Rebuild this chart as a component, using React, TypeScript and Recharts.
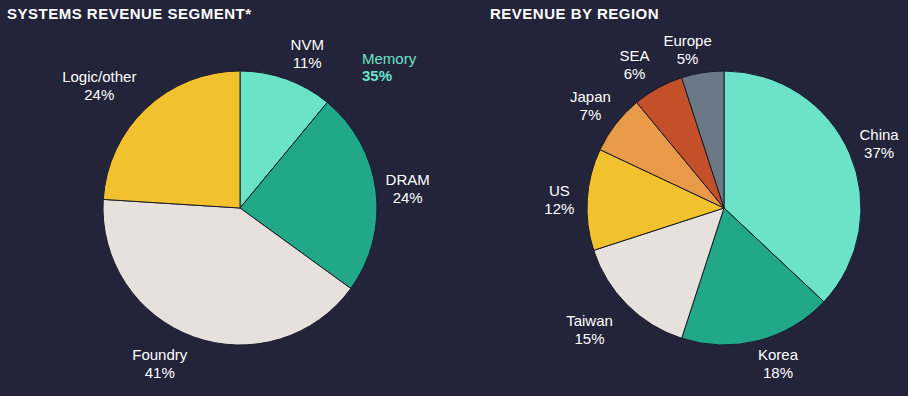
import { PieChart, Pie, Cell } from "recharts";

const segmentNames = ["NVM", "DRAM", "Foundry", "Logic/other"];
const segmentValues = [11, 24, 41, 24];
const segmentColors = ["#6be3c8", "#20a888", "#e6e1dc", "#f2c12e"];

const regionNames = ["China", "Korea", "Taiwan", "US", "Japan", "SEA", "Europe"];
const regionValues = [37, 18, 15, 12, 7, 6, 5];
const regionColors = ["#6be3c8", "#20a888", "#e6e1dc", "#f2c12e", "#e89a48", "#c4502a", "#6b7886"];

const memoryLabel = "Memory";
const memoryShare = 35;

const segmentData = segmentNames.map((name, i) => ({ name, value: segmentValues[i] }));
const regionData = regionNames.map((name, i) => ({ name, value: regionValues[i] }));

// hand nudges so labels sit where the original put them
const labelNudge: Record<string, [number, number]> = {
  NVM: [10, 5],
  DRAM: [0, 2],
  Foundry: [-23, -3],
  "Logic/other": [-25, 1],
  China: [0, 3],
  Korea: [12, -8],
  Taiwan: [-15, 2],
  US: [4, 3],
  Japan: [0, 2],
  SEA: [-8, 5],
  Europe: [-10, 9],
};

const BG = "#23233a";
const FONT = "'Liberation Sans', Arial, sans-serif";
const RAD = Math.PI / 180;

// label sits outside the slice, two lines: name / pct
function renderLabel(props: any) {
  const { cx, cy, midAngle, outerRadius, name, value } = props;
  const r = outerRadius + 32;
  const [nx, ny] = labelNudge[name] || [0, 0];
  const x = cx + r * Math.cos(-midAngle * RAD) + nx;
  const y = cy + r * Math.sin(-midAngle * RAD) + ny;
  return (
    <text x={x} y={y} fill="#ffffff" textAnchor="middle" fontSize={15} fontFamily={FONT}>
      <tspan x={x} y={y - 4}>{name}</tspan>
      <tspan x={x} y={y + 14}>{value}%</tspan>
    </text>
  );
}

export default function App() {
  return (
    <div style={{ position: "absolute", left: 0, top: 0, width: 908, height: 396, background: BG, fontFamily: FONT }}>
      <div style={{ position: "absolute", left: 7, top: 5, color: "#fff", fontWeight: 700, fontSize: 15, letterSpacing: 0.5 }}>
        SYSTEMS REVENUE SEGMENT*
      </div>
      <div style={{ position: "absolute", left: 490, top: 5, color: "#fff", fontWeight: 700, fontSize: 15, letterSpacing: 0.5 }}>
        REVENUE BY REGION
      </div>
      <div style={{ position: "absolute", left: 362, top: 50, color: "#6be3c8", fontSize: 15, lineHeight: "17px" }}>
        <div>{memoryLabel}</div>
        <div style={{ fontWeight: 700 }}>{memoryShare}%</div>
      </div>
      <div style={{ position: "absolute", left: 0, top: 0 }}>
        <PieChart width={908} height={396} margin={{ top: 0, right: 0, bottom: 0, left: 0 }}>
          <Pie
            data={segmentData}
            dataKey="value"
            nameKey="name"
            cx={240}
            cy={208}
            outerRadius={137}
            startAngle={90}
            endAngle={-270}
            stroke="#1b1b29"
            strokeWidth={1}
            label={renderLabel}
            labelLine={false}
            isAnimationActive={false}
          >
            {segmentData.map((d, i) => (
              <Cell key={d.name} fill={segmentColors[i]} />
            ))}
          </Pie>
          <Pie
            data={regionData}
            dataKey="value"
            nameKey="name"
            cx={724}
            cy={208}
            outerRadius={137}
            startAngle={90}
            endAngle={-270}
            stroke="#1b1b29"
            strokeWidth={1}
            label={renderLabel}
            labelLine={false}
            isAnimationActive={false}
          >
            {regionData.map((d, i) => (
              <Cell key={d.name} fill={regionColors[i]} />
            ))}
          </Pie>
        </PieChart>
      </div>
    </div>
  );
}
